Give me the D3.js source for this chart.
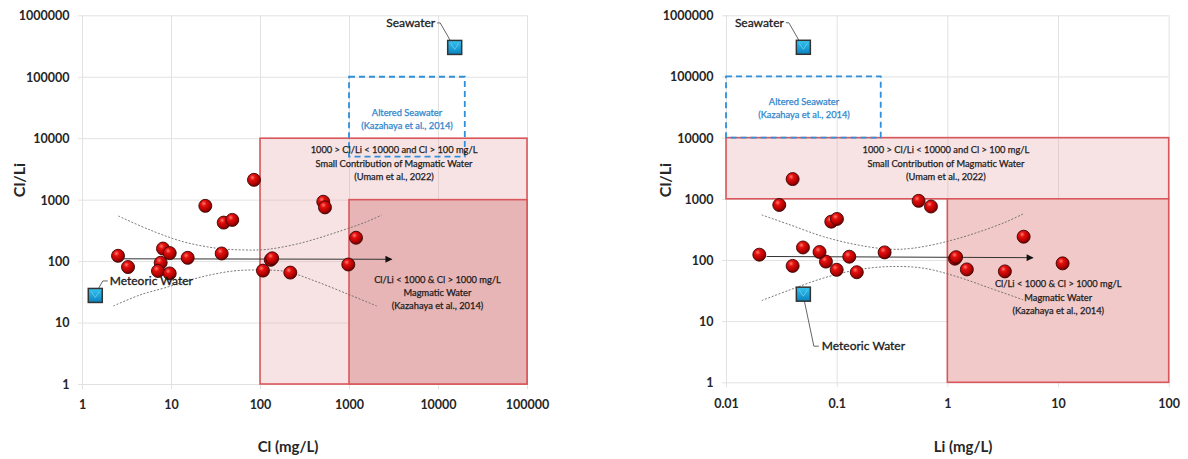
<!DOCTYPE html>
<html><head><meta charset="utf-8">
<script src="https://cdn.jsdelivr.net/npm/d3@7"></script>
<style>body{margin:0;background:#fff;} svg{display:block;}</style>
</head><body><svg id="c" width="1188" height="459"></svg>
<script>
// ---- data ----
const clValues   = [2.54, 3.29, 8.13, 7.66, 9.67, 7.14, 9.67, 15.4, 37.1, 24.3, 39.1, 48.8, 85.6, 108, 132, 137, 219, 514, 537, 1199, 982];
const liValues   = [0.020, 0.040, 0.0496, 0.080, 0.070, 0.100, 0.152, 0.130, 0.271, 0.0303, 0.0894, 0.1006, 0.040, 1.50, 1.17, 1.20, 3.31, 0.55, 0.711, 4.89, 11.0];
const clLiValues = [122, 80, 160, 94, 135, 69, 63, 113, 133, 792, 423, 468, 2100, 70, 105, 111, 65, 925, 748, 240, 88];

const seawater = {cl: 15400, li: 0.05, clLi: 300000};
const meteoric = {cl: 1.41, li: 0.05, clLi: 27.6};

const clTicks = [1, 10, 100, 1000, 10000, 100000];
const liTicks = [0.01, 0.1, 1, 10, 100];
const clLiTicks = [1, 10, 100, 1000, 10000, 100000, 1000000];

// zones [xMin, xMax, yMin, yMax]
const clZoneSmall = [100, 100000, 1, 10000];
const clZoneMagma = [1000, 100000, 1, 1000];
const clZoneAltered = [1000, 20000, 5000, 100000];
const liZoneSmall = [0.01, 100, 1000, 10000];
const liZoneMagma = [1, 100, 1, 1000];
const liZoneAltered = [0.01, 0.25, 10000, 100000];

// trend arrows and confidence bands
const clTrend = [[2.9, 109], [3020, 107]];
const liTrend = [[0.0233, 114], [5.93, 109]];
const clBandUpper = [[2.56,542],[5.81,321],[13.7,207],[32.6,162],[64.9,152],[119,155],[281,195],[666,283],[1578,437],[2328,562]];
const clBandLower = [[2.25,18.6],[4.48,28.1],[8.95,37.5],[21.2,54.5],[50.1,69],[100,71.6],[200,67.3],[434,46.2],[1026,28.1],[2048,18.6]];
const liBandUpper = [[0.021,546],[0.0379,375],[0.0757,241],[0.152,177],[0.303,150],[0.492,156],[0.986,200],[1.97,291],[3.44,424],[4.85,566]];
const liBandLower = [[0.021,21.7],[0.0379,32.5],[0.0757,50.5],[0.152,68.9],[0.303,78],[0.605,73.5],[1.21,53.6],[2.43,34.6],[4.85,22.3]];

const textSmall = ["1000 > Cl/Li < 10000 and Cl > 100 mg/L", "Small Contribution  of Magmatic Water", "(Umam et al., 2022)"];
const textMagma = ["Cl/Li < 1000 & Cl > 1000 mg/L", "Magmatic Water", "(Kazahaya  et al., 2014)"];
const textAltered = ["Altered Seawater", "(Kazahaya et al., 2014)"];

// ---- drawing ----
const svg = d3.select("#c");
const defs = svg.append("defs");
const rg = defs.append("radialGradient").attr("id","ball").attr("cx","38%").attr("cy","32%").attr("r","68%");
rg.append("stop").attr("offset","0%").attr("stop-color","#ff7b6e");
rg.append("stop").attr("offset","30%").attr("stop-color","#e3100f");
rg.append("stop").attr("offset","75%").attr("stop-color","#b00000");
rg.append("stop").attr("offset","100%").attr("stop-color","#6e0000");
const sg = defs.append("linearGradient").attr("id","sq").attr("x1",0).attr("y1",0).attr("x2",0).attr("y2",1);
sg.append("stop").attr("offset","0%").attr("stop-color","#36c4f0");
sg.append("stop").attr("offset","100%").attr("stop-color","#0a82bf");
defs.append("marker").attr("id","arrow").attr("viewBox","0 0 10 10").attr("refX",9).attr("refY",5)
  .attr("markerWidth",9).attr("markerHeight",7).attr("markerUnits","userSpaceOnUse").attr("orient","auto")
  .append("path").attr("d","M0,0L10,5L0,10z").attr("fill","#111");

const FONT = "Lato, 'Open Sans', sans-serif";

function panel(cfg) {
  const x = d3.scaleLog().domain(cfg.xDomain).range(cfg.xRange);
  const y = d3.scaleLog().domain([1, 1000000]).range(cfg.yRange);
  const g = svg.append("g");
  const [x0, x1] = cfg.xRange, [yb, yt] = cfg.yRange;

  // axes with gridlines
  const ax = g.append("g").attr("transform", `translate(0,${yb})`)
    .call(d3.axisBottom(x).tickValues(cfg.xTicks).tickFormat(d => String(d)).tickSizeInner(-(yb - yt)).tickSizeOuter(0));
  ax.select(".domain").remove();
  ax.selectAll(".tick line").attr("stroke", "#e2e2e2").attr("y1", 5);
  ax.selectAll(".tick text").attr("y", 21).attr("dy", "0.35em")
    .attr("font-family", FONT).attr("font-weight", "bold").attr("font-size", "12.5px").attr("fill", "#262626");

  const ay = g.append("g").attr("transform", `translate(${x0},0)`)
    .call(d3.axisLeft(y).tickValues(cfg.yTicks).tickFormat(d => String(d)).tickSizeInner(-(x1 - x0)).tickSizeOuter(0));
  ay.select(".domain").remove();
  ay.selectAll(".tick line").attr("stroke", "#e2e2e2").attr("x1", -4);
  ay.selectAll(".tick text").attr("x", -12.5).attr("dy", "0.35em")
    .attr("font-family", FONT).attr("font-weight", "bold").attr("font-size", "12.5px").attr("fill", "#262626");

  // zones
  const rect = (z, fill, stroke, dash, w) => g.append("rect")
    .attr("x", x(z[0])).attr("y", y(z[3])).attr("width", x(z[1]) - x(z[0])).attr("height", y(z[2]) - y(z[3]))
    .attr("fill", fill).attr("stroke", stroke).attr("stroke-width", w).attr("stroke-dasharray", dash);
  rect(cfg.zoneSmall, "rgba(234,168,170,0.32)", "#d9575b", null, 1.6);
  rect(cfg.zoneMagma, cfg.magmaFill, "#d9575b", null, 1.6);
  rect(cfg.zoneAltered, "none", "#2f8fd8", "6,4", 1.8);

  // confidence bands
  const line = d3.line().x(d => x(d[0])).y(d => y(d[1])).curve(d3.curveCatmullRom);
  [cfg.bandUpper, cfg.bandLower].forEach(b => g.append("path").attr("d", line(b))
    .attr("fill", "none").attr("stroke", "#6b6b6b").attr("stroke-width", 0.9).attr("stroke-dasharray", "2,1.6"));

  // trend arrow
  g.append("line").attr("x1", x(cfg.trend[0][0])).attr("y1", y(cfg.trend[0][1]))
    .attr("x2", x(cfg.trend[1][0])).attr("y2", y(cfg.trend[1][1]))
    .attr("stroke", "#333").attr("stroke-width", 1).attr("marker-end", "url(#arrow)");

  // zone texts
  const block = (lines, ax_, ay_, color, step) => {
    const t = g.append("text").attr("font-family", FONT).attr("font-size", "9.3px").attr("fill", color)
      .attr("stroke", color).attr("stroke-width", 0.25).attr("text-anchor", "middle");
    lines.forEach((s, i) => t.append("tspan").attr("x", x(ax_)).attr("y", y(ay_) + i * step).attr("dy", "0.35em").text(s));
  };
  block(textAltered, cfg.altAnchor[0], cfg.altAnchor[1], "#2f86cc", 13.5);
  block(textSmall, cfg.smallAnchor[0], cfg.smallAnchor[1], "#1c1c1c", 13.4);
  block(textMagma, cfg.magAnchor[0], cfg.magAnchor[1], "#1c1c1c", 13.4);

  // samples
  g.selectAll(".pt").data(cfg.xs.map((v, i) => [v, clLiValues[i]])).join("circle")
    .attr("cx", d => x(d[0])).attr("cy", d => y(d[1])).attr("r", 6.5)
    .attr("fill", "url(#ball)").attr("stroke", "#3d0505").attr("stroke-width", 0.9);

  // end members
  const ends = [[cfg.sea, seawater.clLi, "Seawater", cfg.seaLbl], [cfg.met, meteoric.clLi, "Meteoric Water", cfg.metLbl]];
  ends.forEach(([xv, yv, name, L]) => {
    const px = x(xv), py = y(yv);
    g.append("path").attr("d", `M${px + L.tx + L.lead[0][0]},${py + L.ty + L.lead[0][1]}L${px + L.tx + L.lead[1][0]},${py + L.ty + L.lead[1][1]}L${px + L.lead[2][0]},${py + L.lead[2][1]}`)
      .attr("fill", "none").attr("stroke", "#666").attr("stroke-width", 1);
    g.append("rect").attr("x", px - 7).attr("y", py - 7).attr("width", 14).attr("height", 14)
      .attr("fill", "url(#sq)").attr("stroke", "#333").attr("stroke-width", 1.5);
    g.append("path").attr("d", `M${px - 4},${py - 4}L${px},${py + 2}L${px + 4},${py - 4}`).attr("fill", "none").attr("stroke", "#8ee3fb").attr("stroke-width", 0.8).attr("opacity", 0.7);
    g.append("text").attr("x", px + L.tx).attr("y", py + L.ty).attr("dy", "0.35em").attr("text-anchor", L.anchor)
      .attr("font-family", FONT).attr("font-size", "12px").attr("fill", "#1a1a1a")
      .attr("stroke", "#1a1a1a").attr("stroke-width", 0.3).text(name);
  });

  // axis titles
  g.append("text").attr("transform", `translate(${cfg.yTitle[0]},${cfg.yTitle[1]}) rotate(-90)`).attr("dy", "0.35em")
    .attr("text-anchor", "middle").attr("font-family", FONT).attr("font-weight", "bold").attr("font-size", "16px").attr("fill", "#262626").text("Cl/Li");
  g.append("text").attr("x", cfg.xTitle[0]).attr("y", cfg.xTitle[1]).attr("dy", "0.35em")
    .attr("text-anchor", "middle").attr("font-family", FONT).attr("font-weight", "bold").attr("font-size", "15px").attr("fill", "#262626").text(cfg.xTitleText);
}

panel({
  xDomain: [1, 100000], xRange: [82, 527], yRange: [384, 15.3], xTicks: clTicks, yTicks: clLiTicks,
  zoneSmall: clZoneSmall, zoneMagma: clZoneMagma, zoneAltered: clZoneAltered, magmaFill: "#e8b5b6",
  bandUpper: clBandUpper, bandLower: clBandLower, trend: clTrend,
  altAnchor: [4487, 26400], smallAnchor: [3206, 6427], magAnchor: [9870, 50.6],
  xs: clValues, sea: seawater.cl, met: meteoric.cl,
  seaLbl: {tx: -19.5, ty: -24.5, anchor: "end", lead: [[2, 0], [5, 0], [-1, -1]]},
  metLbl: {tx: 14.5, ty: -14.5, anchor: "start", lead: [[-2, 0], [-7, 0], [1, -3]]},
  yTitle: [19, 180], xTitle: [288, 447], xTitleText: "Cl (mg/L)"
});
panel({
  xDomain: [0.01, 100], xRange: [726, 1168.7], yRange: [382.3, 15.3], xTicks: liTicks, yTicks: clLiTicks,
  zoneSmall: liZoneSmall, zoneMagma: liZoneMagma, zoneAltered: liZoneAltered, magmaFill: "#f2c9c9",
  bandUpper: liBandUpper, bandLower: liBandLower, trend: liTrend,
  altAnchor: [0.0507, 38700], smallAnchor: [0.971, 6300], magAnchor: [10.05, 40.3],
  xs: liValues, sea: seawater.li, met: meteoric.li,
  seaLbl: {tx: -19.5, ty: -24.5, anchor: "end", lead: [[2, 0], [5, 0], [-1, -1]]},
  metLbl: {tx: 18.5, ty: 52, anchor: "start", lead: [[-3, 0], [-8, 0], [0, 2]]},
  yTitle: [665, 180], xTitle: [963, 447], xTitleText: "Li (mg/L)"
});
</script></body></html>
